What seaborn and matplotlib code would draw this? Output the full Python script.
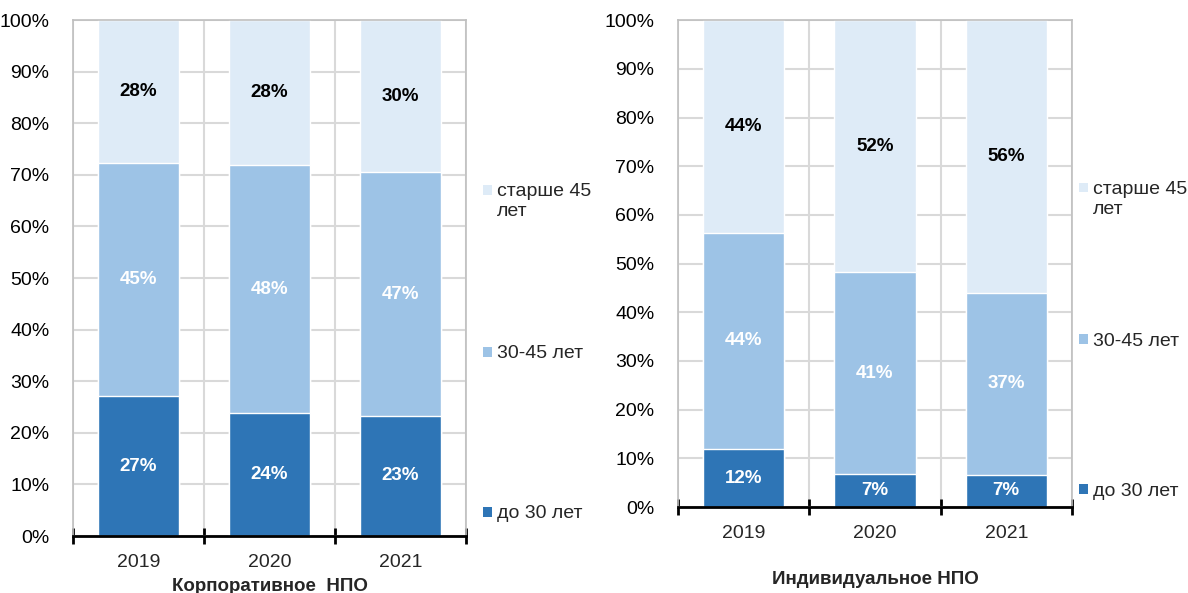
"""Age structure of NPF participants: corporate vs individual pension plans."""

import numpy as np
import pandas as pd
import matplotlib
matplotlib.use('Agg')
import matplotlib.pyplot as plt
from matplotlib.patches import Rectangle
import seaborn as sns

sns.set_theme(style="white")
plt.rcParams['font.family'] = ['Liberation Sans', 'DejaVu Sans']

years = ["2019", "2020", "2021"]
groups = ["до 30 лет", "30-45 лет", "старше 45\nлет"]

# shares in %, bottom -> top
corp_young = [27.1, 23.8, 23.3]
corp_mid = [45.2, 48.1, 47.2]
corp_old = [27.7, 28.1, 29.5]

ind_young = [11.9, 6.8, 6.6]
ind_mid = [44.4, 41.4, 37.4]
ind_old = [43.7, 51.8, 56.0]

colors = ["#2E75B6", "#9DC3E6", "#DEEBF7"]
label_colors = ["white", "white", "black"]
GRID = "#D9D9D9"


def draw_panel(ax, young, mid, old, title, title_y, legend_y, leg_x):
    df = pd.DataFrame({"year": years, "young": young, "mid": mid, "old": old})
    df["c1"] = df["young"]
    df["c2"] = df["young"] + df["mid"]
    df["c3"] = df["c2"] + df["old"]

    # overlay cumulative bars, tallest first
    for col, color in zip(["c3", "c2", "c1"], colors[::-1]):
        sns.barplot(data=df, x="year", y=col, color=color, width=0.62,
                    saturation=1, ax=ax, zorder=2)

    # segment labels
    for i, row in df.iterrows():
        bottoms = [0, row["c1"], row["c2"]]
        vals = [row["young"], row["mid"], row["old"]]
        for b, v, lc in zip(bottoms, vals, label_colors):
            ax.text(i, b + v / 2, f"{round(v):.0f}%", ha="center", va="center",
                    color=lc, fontsize=13.5, fontweight="bold", zorder=3)

    ax.set_xlim(-0.5, 2.5)
    ax.set_ylim(0, 100)
    ax.set_yticks(np.arange(0, 101, 10))
    ax.set_yticklabels([f"{t}%" for t in range(0, 101, 10)], fontsize=14)
    ax.tick_params(axis="y", length=0, pad=17, colors="black")

    ax.set_xticks([-0.5, 0.5, 1.5, 2.5])
    ax.set_xticklabels([])
    ax.set_xticks([0, 1, 2], minor=True)
    ax.set_xticklabels(years, minor=True, fontsize=14)
    ax.tick_params(axis="x", which="major", bottom=True, direction="inout",
                   length=11, width=2, color="black")
    ax.tick_params(axis="x", which="minor", bottom=True, length=0, pad=13)

    ax.grid(True, axis="y", color=GRID, linewidth=1.5, zorder=0)
    ax.grid(True, axis="x", which="major", color=GRID, linewidth=1.5, zorder=0)
    ax.set_axisbelow(True)
    for s in ["left", "top", "right"]:
        ax.spines[s].set_color("#BFBFBF")
        ax.spines[s].set_linewidth(1.2)
    ax.spines["bottom"].set_color("black")
    ax.spines["bottom"].set_linewidth(2)
    ax.set_xlabel("")
    ax.set_ylabel("")

    ax.text(0.5, title_y, title, transform=ax.transAxes, ha="center",
            va="center", fontsize=13.5, fontweight="bold")

    # legend, placed manually next to each tier
    for g, c, y in zip(groups, colors, legend_y):
        ax.add_patch(Rectangle((leg_x, y - 0.0095), 0.024, 0.019,
                               transform=ax.transAxes, facecolor=c,
                               edgecolor="none", clip_on=False))
        ax.text(leg_x + 0.036, y + 0.013, g, transform=ax.transAxes,
                ha="left", va="top", fontsize=14, linespacing=1.2)


fig = plt.figure(figsize=(11.88, 5.93), dpi=100)
ax1 = fig.add_axes([0.0614, 0.0961, 0.3308, 0.870])
ax2 = fig.add_axes([0.5707, 0.145, 0.3316, 0.821])

draw_panel(ax1, corp_young, corp_mid, corp_old, "Корпоративное  НПО",
           -0.098, [0.047, 0.357, 0.671], 1.043)
draw_panel(ax2, ind_young, ind_mid, ind_old, "Индивидуальное НПО",
           -0.148, [0.037, 0.345, 0.656], 1.018)

plt.savefig("out.png", dpi=100)
plt.close()
